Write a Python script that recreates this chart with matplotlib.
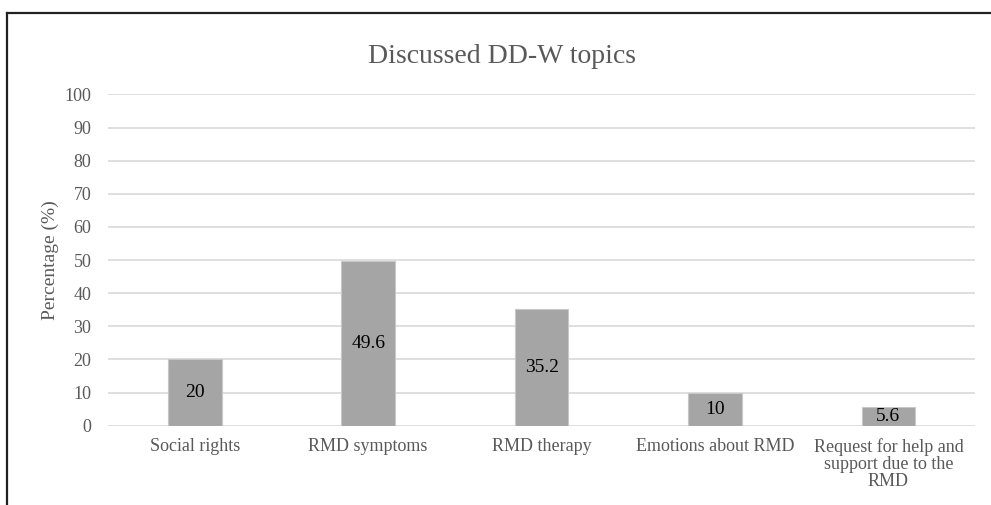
import numpy as np
import matplotlib
matplotlib.use("Agg")
import matplotlib.pyplot as plt
from matplotlib.lines import Line2D

# Chart data
categories = ["Social rights", "RMD symptoms", "RMD therapy",
              "Emotions about RMD",
              "Request for help and\nsupport due to the\nRMD"]
values = [20, 49.6, 35.2, 10, 5.6]
value_labels = ["20", "49.6", "35.2", "10", "5.6"]
yticks = list(range(0, 101, 10))

plt.rcParams['font.family'] = ['Liberation Serif', 'DejaVu Serif']
text_gray = "#595959"

fig = plt.figure(figsize=(9.91, 5.05), dpi=100)
ax = fig.add_axes([0.109, 0.157, 0.875, 0.656])

x = np.arange(len(categories))
bars = ax.bar(x, values, width=0.31, color="#a5a5a5",
              edgecolor="#c8c8c8", linewidth=0.8, zorder=3)

# labels centred inside the bars
for rect, lab in zip(bars, value_labels):
    ax.text(rect.get_x() + rect.get_width() / 2, rect.get_height() / 2, lab,
            ha="center", va="center", fontsize=14, color="black", zorder=4)

ax.set_xlim(-0.5, len(categories) - 0.5)
ax.set_ylim(0, 100)
ax.set_yticks(yticks)
ax.set_xticks(x)
ax.set_xticklabels(categories, fontsize=13, color=text_gray, linespacing=1.0)
ax.tick_params(axis="y", labelsize=13, labelcolor=text_gray, length=0, pad=12)
ax.tick_params(axis="x", length=0, pad=9)
ax.yaxis.grid(True, color="#d9d9d9", linewidth=1.2, zorder=0)
for s in ax.spines.values():
    s.set_visible(False)

ax.set_ylabel("Percentage (%)", fontsize=14, color=text_gray, labelpad=4)
fig.text(0.507, 0.888, "Discussed DD-W topics", ha="center", va="center",
         fontsize=20, color=text_gray)

# chart frame (top and left edges visible)
fig.add_artist(Line2D([0.007, 1.0], [0.975, 0.975], transform=fig.transFigure,
                      color="#222222", linewidth=1.6))
fig.add_artist(Line2D([0.007, 0.007], [0.0, 0.975], transform=fig.transFigure,
                      color="#222222", linewidth=1.6))

fig.savefig("out.png", dpi=100)
